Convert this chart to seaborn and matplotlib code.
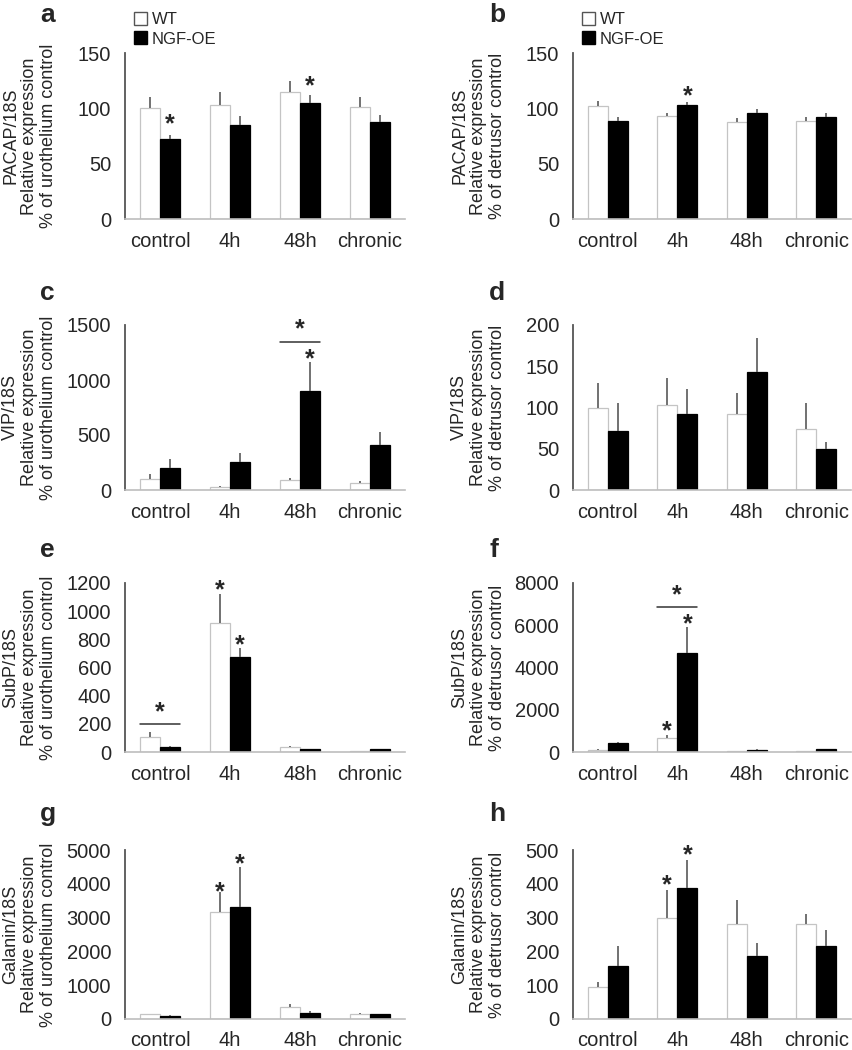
import numpy as np
import pandas as pd
import matplotlib
matplotlib.use('Agg')
import matplotlib.pyplot as plt
import seaborn as sns
from matplotlib.patches import Patch

sns.set_style("white")
plt.rcParams['font.family'] = ['Liberation Sans', 'DejaVu Sans']

# --- data ---
categories = ['control', '4h', '48h', 'chronic']
groups = ['WT', 'NGF-OE']

# a: PACAP urothelium
a_wt = [100, 103, 115, 101]
a_wt_err = [10, 12, 10, 9]
a_ngf = [72, 85, 105, 88]
a_ngf_err = [4, 8, 7, 6]
# b: PACAP detrusor
b_wt = [102, 93, 88, 89]
b_wt_err = [5, 3, 3, 3]
b_ngf = [89, 103, 96, 92]
b_ngf_err = [3, 3, 3, 4]
# c: VIP urothelium
c_wt = [100, 27, 90, 63]
c_wt_err = [45, 5, 20, 15]
c_ngf = [200, 255, 900, 410]
c_ngf_err = [82, 81, 264, 117]
# d: VIP detrusor
d_wt = [100, 103, 92, 74]
d_wt_err = [30, 33, 26, 31]
d_ngf = [71, 92, 143, 50]
d_ngf_err = [34, 31, 41, 8]
# e: SubP urothelium
e_wt = [106, 916, 35, 5]
e_wt_err = [36, 206, 8, 3]
e_ngf = [35, 675, 20, 20]
e_ngf_err = [5, 63, 3, 4]
# f: SubP detrusor
f_wt = [100, 660, 40, 50]
f_wt_err = [30, 140, 10, 10]
f_ngf = [425, 4690, 110, 120]
f_ngf_err = [45, 1230, 20, 20]
# g: Galanin urothelium
g_wt = [140, 3166, 355, 148]
g_wt_err = [20, 590, 90, 30]
g_ngf = [100, 3314, 178, 140]
g_ngf_err = [10, 1183, 59, 15]
# h: Galanin detrusor
h_wt = [95, 300, 282, 282]
h_wt_err = [13, 82, 71, 30]
h_ngf = [158, 388, 185, 215]
h_ngf_err = [57, 82, 39, 47]

# significance marks: (category, group index, y)
a_stars = [(0, 1, 92), (2, 1, 126)]
b_stars = [(1, 1, 117)]
c_stars = [(2, 1, 1255)]
e_stars = [(1, 0, 1200), (1, 1, 807)]
f_stars = [(1, 0, 1320), (1, 1, 6350)]
g_stars = [(1, 0, 3964), (1, 1, 4793)]
h_stars = [(1, 0, 415), (1, 1, 505)]
# brackets: (category, line y, star y)
c_brackets = [(2, 1345, 1520)]
e_brackets = [(0, 199, 334)]
f_brackets = [(1, 6870, 7760)]

uro = "% of urothelium control"
det = "% of detrusor control"

W, H = 852, 1050
rows = [(53, 219), (325, 490), (583, 752), (850, 1019)]
cols = [(125, 405), (573, 851)]


def draw_panel(ax, wt, wt_err, ngf, ngf_err, yticks, ylabel, stars=(), brackets=()):
    df = pd.DataFrame({'time': categories * 2,
                       'genotype': ['WT'] * 4 + ['NGF-OE'] * 4,
                       'value': wt + ngf})
    sns.barplot(data=df, x='time', y='value', hue='genotype', order=categories,
                hue_order=groups, palette={'WT': 'white', 'NGF-OE': 'black'},
                width=0.58, gap=0, errorbar=None, legend=False, ax=ax,
                linewidth=0.9, edgecolor='#c4c4c4')
    for bar in ax.containers[1]:
        bar.set_edgecolor('black')
    # upper error bars only
    for cont, errs in zip(ax.containers, [wt_err, ngf_err]):
        for bar, e in zip(cont, errs):
            x = bar.get_x() + bar.get_width() / 2
            top = bar.get_height()
            ax.vlines(x, top, top + e, color='#666666', lw=1.3)
    for cat, grp, y in stars:
        bar = ax.containers[grp][cat]
        x = bar.get_x() + bar.get_width() / 2
        ax.annotate('*', (x, y), xytext=(0, -5), textcoords='offset points',
                    ha='center', va='center', fontsize=18, fontweight='bold',
                    annotation_clip=False)
    for cat, yl, ys in brackets:
        b0 = ax.containers[0][cat]
        b1 = ax.containers[1][cat]
        x0 = b0.get_x()
        x1 = b1.get_x() + b1.get_width()
        ax.plot([x0, x1], [yl, yl], color='#333333', lw=1.1, clip_on=False)
        ax.annotate('*', ((x0 + x1) / 2, ys), xytext=(0, -5), textcoords='offset points',
                    ha='center', va='center', fontsize=18, fontweight='bold',
                    annotation_clip=False)

    ax.set_xlim(-0.5, 3.5)
    ax.set_ylim(0, yticks[-1])
    ax.set_yticks(yticks)
    ax.set_yticklabels([str(t) for t in yticks])
    ax.set_xticks(range(4))
    ax.set_xticklabels(categories)
    ax.set_xticks([0.5, 1.5, 2.5, 3.5], minor=True)
    ax.tick_params(axis='x', which='major', length=0, pad=9, labelsize=14.5)
    ax.tick_params(axis='x', which='minor', length=4, width=1.2, color='#888888', direction='out')
    ax.tick_params(axis='y', length=0, pad=10, labelsize=14.5)
    ax.set_xlabel('')
    ax.set_ylabel(ylabel, fontsize=13, linespacing=1.15)
    ax.yaxis.set_label_coords(-0.34, 0.5)
    ax.yaxis.label.set_verticalalignment('center')
    sns.despine(ax=ax)
    ax.spines['left'].set_color('#555555')
    ax.spines['left'].set_linewidth(1.3)
    ax.spines['bottom'].set_color('#bdbdbd')
    ax.spines['bottom'].set_linewidth(1.2)


fig = plt.figure(figsize=(W / 100, H / 100), dpi=100)

panels = [
    ('a', 0, 0, a_wt, a_wt_err, a_ngf, a_ngf_err, [0, 50, 100, 150], "PACAP/18S\nRelative expression\n" + uro, a_stars, []),
    ('b', 0, 1, b_wt, b_wt_err, b_ngf, b_ngf_err, [0, 50, 100, 150], "PACAP/18S\nRelative expression\n" + det, b_stars, []),
    ('c', 1, 0, c_wt, c_wt_err, c_ngf, c_ngf_err, [0, 500, 1000, 1500], "VIP/18S\nRelative expression\n" + uro, c_stars, c_brackets),
    ('d', 1, 1, d_wt, d_wt_err, d_ngf, d_ngf_err, [0, 50, 100, 150, 200], "VIP/18S\nRelative expression\n" + det, [], []),
    ('e', 2, 0, e_wt, e_wt_err, e_ngf, e_ngf_err, [0, 200, 400, 600, 800, 1000, 1200], "SubP/18S\nRelative expression\n" + uro, e_stars, e_brackets),
    ('f', 2, 1, f_wt, f_wt_err, f_ngf, f_ngf_err, [0, 2000, 4000, 6000, 8000], "SubP/18S\nRelative expression\n" + det, f_stars, f_brackets),
    ('g', 3, 0, g_wt, g_wt_err, g_ngf, g_ngf_err, [0, 1000, 2000, 3000, 4000, 5000], "Galanin/18S\nRelative expression\n" + uro, g_stars, []),
    ('h', 3, 1, h_wt, h_wt_err, h_ngf, h_ngf_err, [0, 100, 200, 300, 400, 500], "Galanin/18S\nRelative expression\n" + det, h_stars, []),
]

letter_base = [22, 300, 557, 821]
letter_x = [40, 489]

for letter, r, c, wt, wte, ngf, ngfe, yt, yl, st, br in panels:
    y0, y1 = rows[r]
    x0, x1 = cols[c]
    ax = fig.add_axes([x0 / W, 1 - y1 / H, (x1 - x0) / W, (y1 - y0) / H])
    draw_panel(ax, wt, wte, ngf, ngfe, yt, yl, st, br)
    fig.text(letter_x[c] / W, 1 - letter_base[r] / H, letter, fontsize=19,
             fontweight='bold', ha='left', va='baseline')
    if r == 0:
        handles = [Patch(facecolor='white', edgecolor='#555555', lw=1),
                   Patch(facecolor='black', edgecolor='black', lw=1)]
        lx = (x0 + 9) / W
        fig.legend(handles, groups, loc='upper left', bbox_to_anchor=(lx, 1 - 12 / H),
                   bbox_transform=fig.transFigure, frameon=False, fontsize=12,
                   handlelength=0.8, handleheight=0.8, handletextpad=0.25,
                   labelspacing=0.25, borderpad=0, borderaxespad=0)

fig.savefig('out.png', dpi=100)
